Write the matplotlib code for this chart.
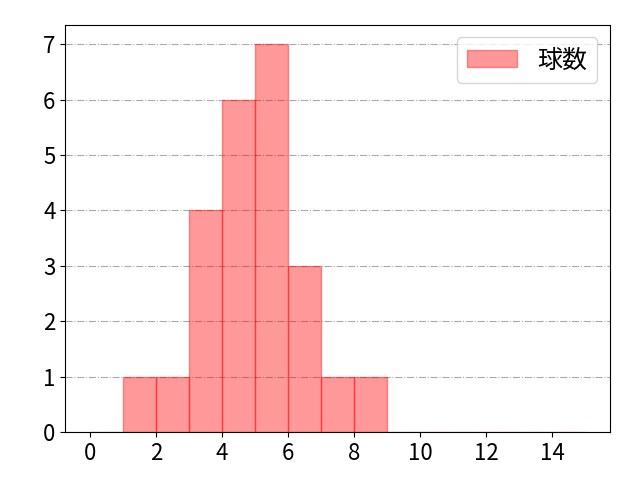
import matplotlib
matplotlib.use("Agg")
import matplotlib.pyplot as plt
import numpy as np

plt.rcParams['font.family'] = ['Noto Sans CJK JP', 'DejaVu Sans']

# pitch-count histogram, bins of width 1
bin_edges = list(range(0, 16))
counts = [0, 1, 1, 4, 6, 7, 3, 1, 1, 0, 0, 0, 0, 0, 0]
label = '球数'

fig, ax = plt.subplots(figsize=(6.4, 4.8), dpi=100)

ax.hist(bin_edges[:-1], bins=bin_edges, weights=counts,
        color='red', alpha=0.4, edgecolor='red', linewidth=1, label=label)

ax.grid(True, axis='y', linestyle='-.', color='#aaaaaa', linewidth=0.8)
ax.set_axisbelow(True)
ax.set_xticks(range(0, 16, 2))
ax.set_yticks(range(0, 8))
ax.tick_params(labelsize=16)
ax.legend(loc='upper right', fontsize=18)

fig.subplots_adjust(left=0.102, right=0.953, top=0.948, bottom=0.1)
plt.savefig('out.png', dpi=100)
